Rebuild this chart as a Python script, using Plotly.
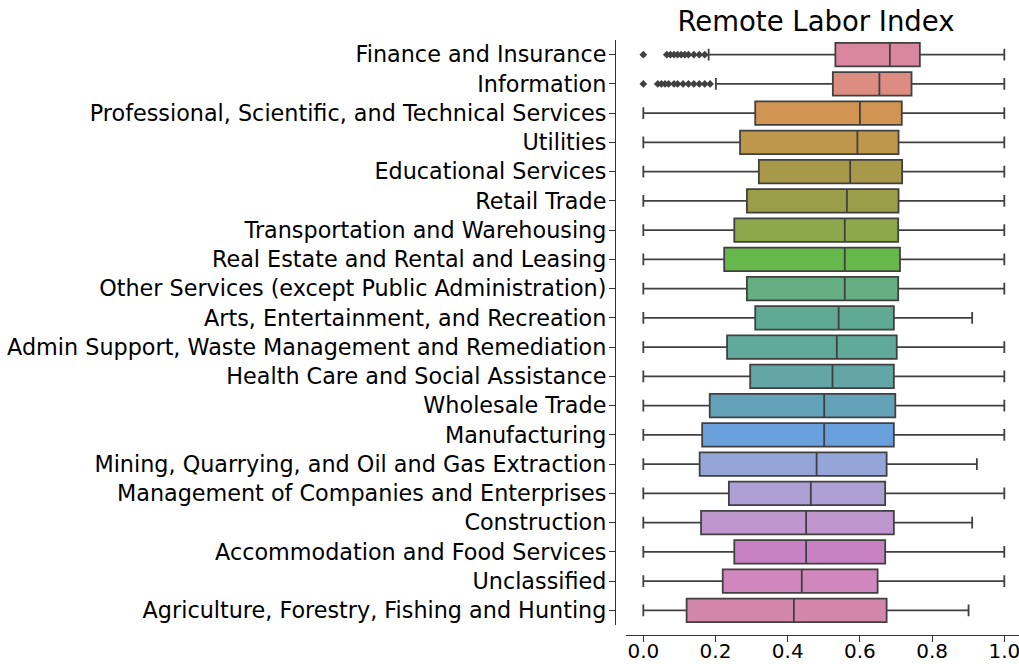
import plotly.graph_objects as go

# Industries, ordered by median Remote Labor Index (highest first)
industries = [
    "Finance and Insurance",
    "Information",
    "Professional, Scientific, and Technical Services",
    "Utilities",
    "Educational Services",
    "Retail Trade",
    "Transportation and Warehousing",
    "Real Estate and Rental and Leasing",
    "Other Services (except Public Administration)",
    "Arts, Entertainment, and Recreation",
    "Admin Support, Waste Management and Remediation",
    "Health Care and Social Assistance",
    "Wholesale Trade",
    "Manufacturing",
    "Mining, Quarrying, and Oil and Gas Extraction",
    "Management of Companies and Enterprises",
    "Construction",
    "Accommodation and Food Services",
    "Unclassified",
    "Agriculture, Forestry, Fishing and Hunting",
]

q1 = [0.532, 0.525, 0.310, 0.268, 0.320, 0.287, 0.252, 0.224, 0.287, 0.310,
      0.232, 0.296, 0.184, 0.163, 0.156, 0.237, 0.160, 0.252, 0.220, 0.120]
median = [0.683, 0.654, 0.600, 0.593, 0.573, 0.564, 0.558, 0.558, 0.558, 0.541,
          0.536, 0.524, 0.501, 0.501, 0.480, 0.464, 0.451, 0.451, 0.439, 0.417]
q3 = [0.766, 0.743, 0.716, 0.707, 0.717, 0.707, 0.706, 0.711, 0.706, 0.694,
      0.702, 0.694, 0.698, 0.694, 0.674, 0.670, 0.694, 0.670, 0.649, 0.674]
lower_whisker = [0.181, 0.201, 0.0, 0.0, 0.0, 0.0, 0.0, 0.0, 0.0, 0.0,
                 0.0, 0.0, 0.0, 0.0, 0.0, 0.0, 0.0, 0.0, 0.0, 0.0]
upper_whisker = [1.0, 1.0, 1.0, 1.0, 1.0, 1.0, 1.0, 1.0, 1.0, 0.911,
                 1.0, 1.0, 1.0, 1.0, 0.924, 1.0, 0.911, 1.0, 1.0, 0.901]

# Outlying occupations below the lower whisker
finance_outliers = [0.0, 0.065, 0.075, 0.085, 0.095, 0.105, 0.115, 0.125, 0.14, 0.155, 0.17]
information_outliers = [0.0, 0.04, 0.05, 0.06, 0.07, 0.085, 0.095, 0.11, 0.125,
                        0.14, 0.155, 0.17, 0.185]

x_ticks = [0.0, 0.2, 0.4, 0.6, 0.8, 1.0]

# Muted hue-wheel fill colours, one per industry
box_colors = [
    "rgb(217,134,160)", "rgb(220,140,128)", "rgb(210,148,82)", "rgb(190,150,76)",
    "rgb(168,152,74)", "rgb(155,158,72)", "rgb(140,168,74)", "rgb(102,184,74)",
    "rgb(102,175,130)", "rgb(96,170,148)", "rgb(96,170,155)", "rgb(100,165,165)",
    "rgb(100,162,185)", "rgb(105,160,220)", "rgb(150,165,215)", "rgb(172,160,212)",
    "rgb(190,150,205)", "rgb(200,130,195)", "rgb(208,135,190)", "rgb(210,135,170)",
]
edge = "rgb(64,64,64)"
font_family = "DejaVu Sans"

fig = go.Figure()
for i, name in enumerate(industries):
    fig.add_trace(go.Box(
        y=[name],
        q1=[q1[i]], median=[median[i]], q3=[q3[i]],
        lowerfence=[lower_whisker[i]], upperfence=[upper_whisker[i]],
        orientation="h",
        fillcolor=box_colors[i],
        line=dict(color=edge, width=1.8),
        width=0.8,
        whiskerwidth=0.5,
        boxpoints=False,
        showlegend=False,
        hoverinfo="skip",
    ))

# Outliers drawn as small diamonds
for name, vals in ((industries[0], finance_outliers), (industries[1], information_outliers)):
    fig.add_trace(go.Scatter(
        x=vals, y=[name] * len(vals), mode="markers",
        marker=dict(symbol="diamond", size=6, color=edge),
        showlegend=False, hoverinfo="skip",
    ))

W, H = 1019, 664
ml, mr, mt, mb = 615, 0, 40, 29
plot_w = W - ml - mr
plot_h = H - mt - mb

fig.update_layout(
    width=W, height=H,
    margin=dict(l=ml, r=mr, t=mt, b=mb, pad=0, autoexpand=False),
    paper_bgcolor="white", plot_bgcolor="white",
    font=dict(family=font_family, color="black"),
    boxmode="overlay",
    title=dict(text="Remote Labor Index", x=816 / W, xanchor="center",
               y=1 - 21 / H, yanchor="middle", xref="container", yref="container",
               font=dict(size=27.5, family=font_family, color="black")),
    xaxis=dict(
        domain=[11 / plot_w, 1],
        range=[-0.048, 1.0407],
        anchor="free", position=0,
        automargin=False,
        tickvals=x_ticks, ticktext=["%.1f" % v for v in x_ticks],
        ticks="outside", ticklen=6, tickwidth=1.3, tickcolor="#333",
        ticklabeloverflow="allow", ticklabelstandoff=-8,
        showline=True, linecolor="#333", linewidth=1.3,
        showgrid=False, zeroline=False,
        tickfont=dict(size=20, family=font_family, color="black"),
    ),
    yaxis=dict(
        domain=[10 / plot_h, 1],
        type="category",
        categoryorder="array", categoryarray=industries,
        range=[len(industries) - 0.5, -0.5],
        anchor="free", position=0,
        automargin=False,
        ticks="outside", ticklen=6, tickwidth=1.3, tickcolor="#333",
        ticklabeloverflow="allow", ticklabelstandoff=-2,
        showline=True, linecolor="#333", linewidth=1.3,
        showgrid=False, zeroline=False,
        tickfont=dict(size=22.3, family=font_family, color="black"),
    ),
)

fig.write_html("out.html")
